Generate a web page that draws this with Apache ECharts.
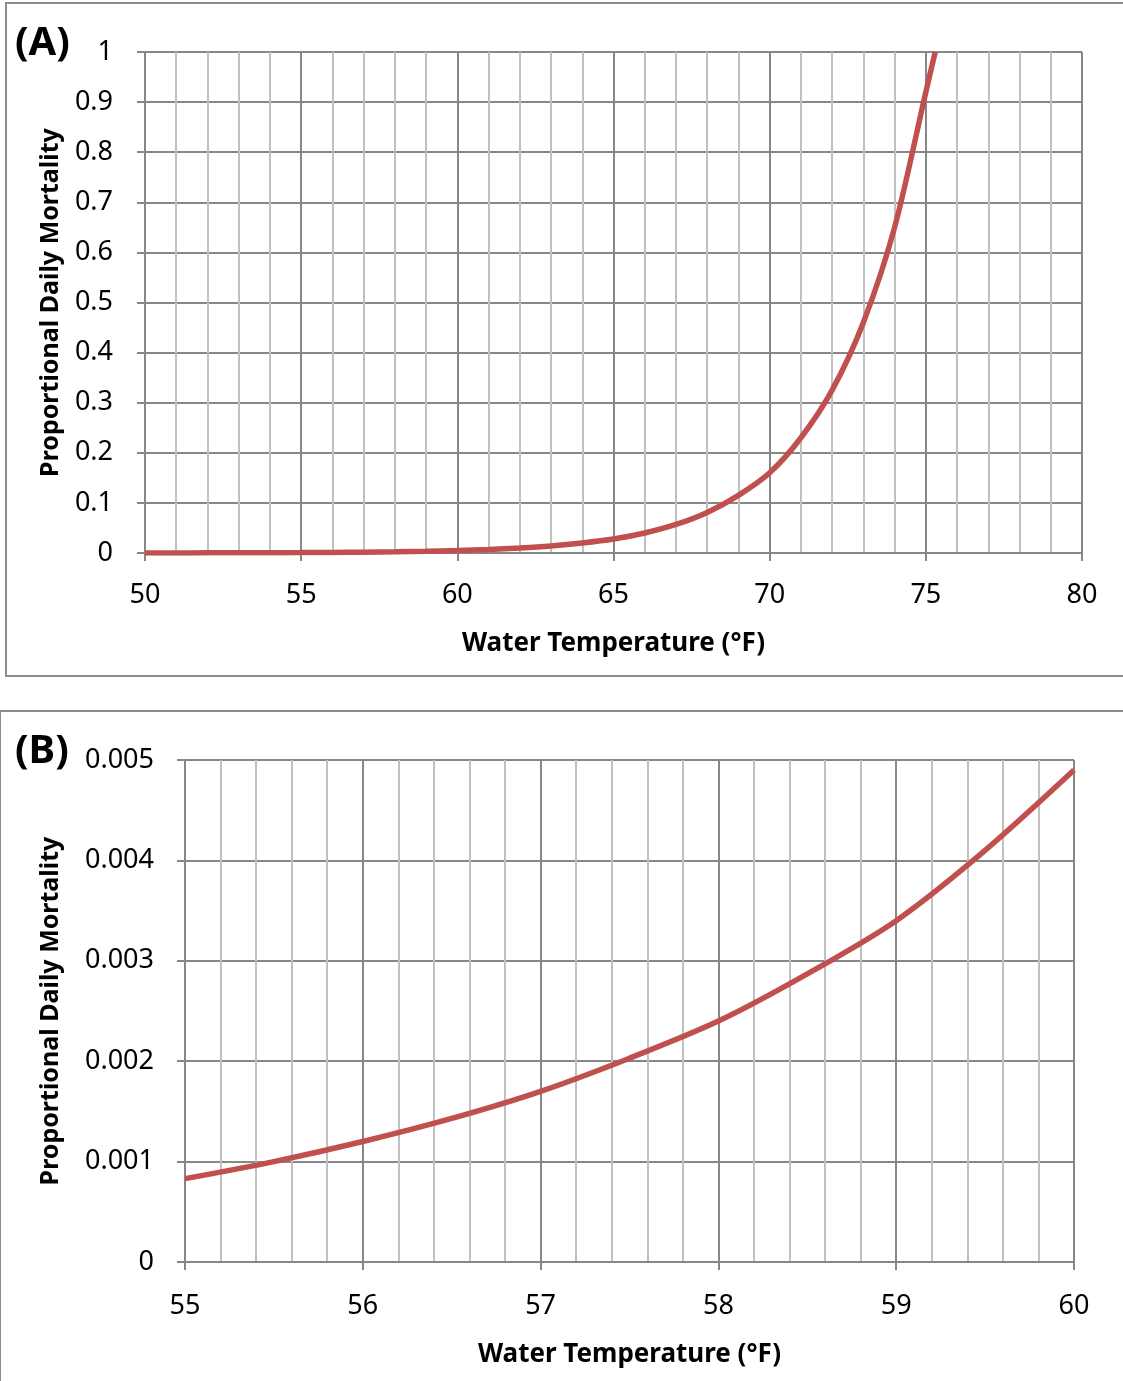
<!DOCTYPE html>
<html>
<head>
<meta charset="utf-8">
<script src="https://cdn.jsdelivr.net/npm/echarts@6/dist/echarts.min.js"></script>
<style>
html,body{margin:0;padding:0;background:#fff;}
#chart{width:1123px;height:1381px;}
</style>
</head>
<body>
<div id="chart"></div>
<script>
// Panel A: water temperature (°F) vs proportional daily mortality
var tempA = [50, 51, 52, 53, 54, 55, 56, 57, 58, 59, 60, 61, 62, 63, 64, 65, 66, 67, 68, 69, 70, 71, 72, 73, 74, 75, 75.3];
var mortA = [0.00015, 0.0002, 0.0003, 0.0004, 0.0006, 0.00083, 0.0012, 0.0017, 0.0024, 0.0034, 0.0049, 0.007, 0.0099, 0.014, 0.02, 0.028, 0.04, 0.057, 0.081, 0.115, 0.16, 0.23, 0.325, 0.46, 0.65, 0.92, 1.0];
// Panel B: zoomed-in range 55–60 °F
var tempB = [55, 55.5, 56, 56.5, 57, 57.5, 58, 58.5, 59, 59.5, 60];
var mortB = [0.00083, 0.001, 0.0012, 0.00143, 0.0017, 0.00203, 0.0024, 0.00287, 0.0034, 0.0041, 0.0049];
var xTitle = 'Water Temperature (°F)';
var yTitle = 'Proportional Daily Mortality';
var panelLabels = ['(A)', '(B)'];

function pairs(xs, ys){ return xs.map(function(x,i){ return [x, ys[i]]; }); }

var FONT = '"Noto Sans", "DejaVu Sans", sans-serif';
var MAJOR = '#878787', MINOR = '#c0c0c0', RED = '#c0504d';

function xAxisCfg(idx, min, max, interval, nameGap, margin){
  return {
    type:'value', gridIndex: idx, min:min, max:max, interval:interval,
    name: xTitle, nameLocation:'middle', nameGap:nameGap,
    nameTextStyle:{fontFamily:FONT, fontWeight:'bold', fontSize:26, color:'#000'},
    axisLine:{show:true, onZero:false, lineStyle:{color:MAJOR, width:2}},
    axisTick:{show:true, length:8, lineStyle:{color:MAJOR, width:2}},
    axisLabel:{fontFamily:FONT, fontSize:27, color:'#000', margin:margin},
    splitLine:{show:true, lineStyle:{color:MAJOR, width:2}},
    minorTick:{show:false, splitNumber:5},
    minorSplitLine:{show:true, lineStyle:{color:MINOR, width:2}}
  };
}
function yAxisCfg(idx, min, max, interval, nameGap, margin){
  return {
    type:'value', gridIndex: idx, min:min, max:max, interval:interval,
    name: yTitle, nameLocation:'middle', nameGap:nameGap, nameRotate:90,
    nameTextStyle:{fontFamily:FONT, fontWeight:'bold', fontSize:25, color:'#000'},
    axisLine:{show:true, lineStyle:{color:MAJOR, width:2}},
    axisTick:{show:true, length:8, lineStyle:{color:MAJOR, width:2}},
    axisLabel:{fontFamily:FONT, fontSize:27, color:'#000', margin:margin},
    splitLine:{show:true, lineStyle:{color:MAJOR, width:2}}
  };
}

var chart = echarts.init(document.getElementById('chart'), null, {renderer:'canvas'});
chart.setOption({
  animation:false,
  backgroundColor:'#fff',
  graphic:[
    {type:'rect', shape:{x:6, y:3, width:1140, height:673}, style:{fill:'none', stroke:'#8c8c8c', lineWidth:2}, z:-10},
    {type:'rect', shape:{x:0, y:711, width:1140, height:700}, style:{fill:'none', stroke:'#8c8c8c', lineWidth:2}, z:-10},
    {type:'text', left:15, top:24, style:{text:panelLabels[0], font:'bold 40px ' + FONT, fill:'#000'}},
    {type:'text', left:15, top:732, style:{text:panelLabels[1], font:'bold 40px ' + FONT, fill:'#000'}}
  ],
  grid:[
    {left:145, top:52, width:937, height:501, containLabel:false},
    {left:185, top:760, width:889, height:502, containLabel:false}
  ],
  xAxis:[
    xAxisCfg(0, 50, 80, 5, 78, 29),
    xAxisCfg(1, 55, 60, 1, 80, 31)
  ],
  yAxis:[
    yAxisCfg(0, 0, 1, 0.1, 82, 32),
    yAxisCfg(1, 0, 0.005, 0.001, 122, 31)
  ],
  series:[
    {type:'line', xAxisIndex:0, yAxisIndex:0, data:pairs(tempA, mortA), smooth:0.3, showSymbol:false, lineStyle:{color:RED, width:5.5}, itemStyle:{color:RED}, clip:true},
    {type:'line', xAxisIndex:1, yAxisIndex:1, data:pairs(tempB, mortB), smooth:0.3, showSymbol:false, lineStyle:{color:RED, width:5.5}, itemStyle:{color:RED}, clip:true}
  ]
});
</script>
</body>
</html>
